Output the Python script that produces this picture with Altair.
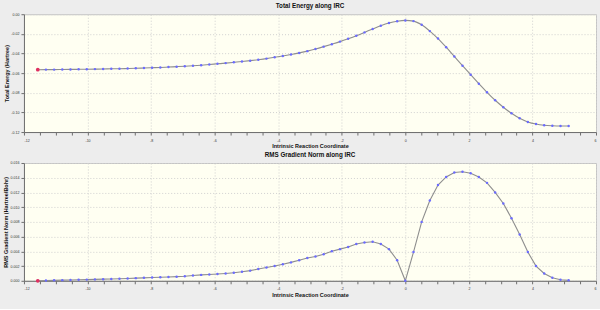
import altair as alt
import pandas as pd

# Intrinsic reaction coordinate of each IRC point
irc_coord = [
    -11.565, -11.308, -11.051, -10.794, -10.537, -10.280, -10.023, -9.766, -9.509, -9.252,
    -8.995, -8.738, -8.481, -8.224, -7.967, -7.710, -7.453, -7.196, -6.939, -6.682,
    -6.425, -6.168, -5.911, -5.654, -5.397, -5.140, -4.883, -4.626, -4.369, -4.112,
    -3.855, -3.598, -3.341, -3.084, -2.827, -2.570, -2.313, -2.056, -1.799, -1.542,
    -1.285, -1.028, -0.771, -0.514, -0.257, 0.000, 0.257, 0.514, 0.771, 1.028,
    1.285, 1.542, 1.799, 2.056, 2.313, 2.570, 2.827, 3.084, 3.341, 3.598,
    3.855, 4.112, 4.369, 4.626, 4.883, 5.140,
]

# Total energy (Hartree)
total_energy = [
    -0.0565, -0.0564, -0.0564, -0.0563, -0.0562, -0.0561, -0.0560, -0.0559, -0.0558, -0.0556,
    -0.0555, -0.0553, -0.0551, -0.0548, -0.0545, -0.0542, -0.0538, -0.0534, -0.0530, -0.0525,
    -0.0519, -0.0512, -0.0505, -0.0498, -0.0490, -0.0482, -0.0473, -0.0463, -0.0452, -0.0439,
    -0.0425, -0.0410, -0.0394, -0.0376, -0.0354, -0.0330, -0.0305, -0.0279, -0.0250, -0.0219,
    -0.0185, -0.0150, -0.0117, -0.0090, -0.0072, -0.0063, -0.0070, -0.0108, -0.0172, -0.0248,
    -0.0336, -0.0430, -0.0524, -0.0616, -0.0708, -0.0795, -0.0876, -0.0947, -0.1009, -0.1060,
    -0.1097, -0.1119, -0.1131, -0.1136, -0.1138, -0.1138,
]

# RMS gradient norm (Hartree/Bohr)
rms_gradient = [
    0.00000, 0.00003, 0.00006, 0.00009, 0.00011, 0.00014, 0.00016, 0.00019, 0.00022, 0.00025,
    0.00028, 0.00032, 0.00036, 0.00040, 0.00044, 0.00048, 0.00052, 0.00056, 0.00062, 0.00072,
    0.00080, 0.00086, 0.00092, 0.00100, 0.00110, 0.00122, 0.00138, 0.00160, 0.00180, 0.00200,
    0.00225, 0.00250, 0.00280, 0.00310, 0.00330, 0.00360, 0.00400, 0.00430, 0.00460, 0.00500,
    0.00520, 0.00530, 0.00500, 0.00430, 0.00280, 0.00000, 0.00390, 0.00800, 0.01090, 0.01300,
    0.01410, 0.01470, 0.01480, 0.01460, 0.01410, 0.01330, 0.01200, 0.01050, 0.00850, 0.00630,
    0.00390, 0.00200, 0.00100, 0.00040, 0.00014, 0.00006,
]

x_ticks = [-12, -11.5, -11, -10.5, -10, -9.5, -9, -8.5, -8, -7.5, -7, -6.5, -6, -5.5, -5,
           -4.5, -4, -3.5, -3, -2.5, -2, -1.5, -1, -0.5, 0, 0.5, 1, 1.5, 2, 2.5, 3, 3.5,
           4, 4.5, 5, 5.5, 6]
energy_ticks = [0.0, -0.02, -0.04, -0.06, -0.08, -0.10, -0.12]
grad_ticks = [0.0, 0.002, 0.004, 0.006, 0.008, 0.010, 0.012, 0.014, 0.016]

df = pd.DataFrame({"irc": irc_coord, "energy": total_energy, "grad": rms_gradient})
first = df.iloc[[0]]

FONT = "Liberation Sans"
MINUS = "\u2212"


def x_enc():
    return alt.X(
        "irc:Q",
        scale=alt.Scale(domain=[-12, 6], nice=False, zero=False),
        axis=alt.Axis(
            values=x_ticks,
            labelExpr="datum.value % 2 === 0 ? '' + datum.value : ''",
            title="Intrinsic Reaction Coordinate",
            gridOpacity={"condition": {"test": "datum.value % 2 !== 0", "value": 0}, "value": 1},
            labelOverlap=False,
        ),
    )


def panel(field, ticks, fmt, ytitle, title, interp):
    y = alt.Y(
        f"{field}:Q",
        scale=alt.Scale(domain=[min(ticks), max(ticks)], nice=False, zero=False),
        axis=alt.Axis(
            values=ticks,
            labelExpr=f"replace(format(datum.value, '{fmt}'), '{MINUS}', '-')",
            title=ytitle,
            labelOverlap=False,
        ),
    )
    base = alt.Chart(df).encode(x=x_enc(), y=y)
    line = base.mark_line(color="#8e8e8e", strokeWidth=1.1, interpolate=interp)
    pts = base.mark_point(filled=True, size=6, color="#6b6bff", opacity=1)
    fp = alt.Chart(first).mark_point(filled=True, size=14, color="#e03060", opacity=1).encode(
        x=x_enc(), y=y
    )
    return alt.layer(line, pts, fp).properties(
        width=573,
        height=118,
        title=alt.TitleParams(
            title, fontSize=6.3, font=FONT, fontWeight="bold", anchor="middle",
            frame="group", offset=3, color="#111111",
        ),
    )


top = panel("energy", energy_ticks, ".2f", "Total Energy (Hartree)", "Total Energy along IRC", "monotone")
bottom = panel("grad", grad_ticks, ".3f", "RMS Gradient Norm (Hartree/Bohr)",
               "RMS Gradient Norm along IRC", "linear")

chart = (
    alt.vconcat(top, bottom, spacing=1)
    .properties(padding={"left": 3, "top": 2, "right": 3, "bottom": 10}, background="#ededed")
    .configure_view(fill="#fffff2", stroke="#c4c4c4", strokeWidth=1)
    .configure_axis(
        labelFont=FONT, labelFontSize=3.6, labelColor="#333333",
        titleFont=FONT, titleFontSize=5.5, titleFontWeight="bold", titleColor="#111111",
        domainColor="#6e6e6e", tickColor="#6e6e6e", tickSize=3,
        labelPadding=2, titlePadding=1,
        gridColor="#d0d0d0", gridDash=[1, 2],
    )
    .configure_axisX(labelPadding=3, titlePadding=2)
)

chart.save("out.html", embed_options={"renderer": "svg", "actions": False})
